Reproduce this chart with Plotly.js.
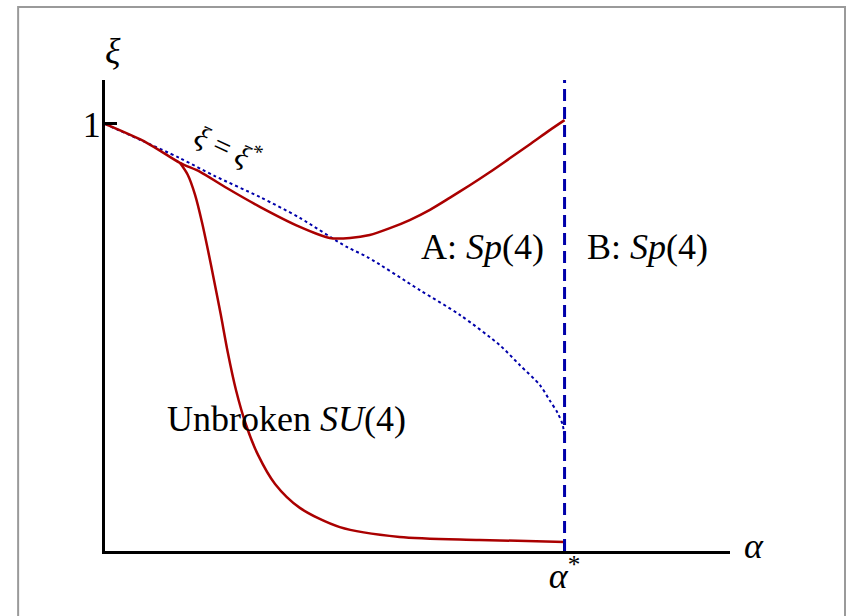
<!DOCTYPE html>
<html>
<head>
<meta charset="utf-8">
<script src="https://cdn.plot.ly/plotly-3.0.1.min.js"></script>
<style>
  html, body { margin: 0; padding: 0; background: #fff; }
  #chart { width: 850px; height: 616px; }
</style>
</head>
<body>
<div id="chart"></div>
<script>
// Phase diagram in the (alpha, xi) plane; alpha* normalised to 1.

// Upper boundary: dips to a minimum, then rises back to xi = 1 at alpha*
const upperAlpha = [0, 0.091, 0.163, 0.207, 0.265, 0.337, 0.424, 0.489, 0.533, 0.576, 0.620, 0.663, 0.707, 0.750, 0.793, 0.837, 0.880, 0.924, 0.967, 1.0];
const upperXi    = [1.0, 0.956, 0.909, 0.888, 0.850, 0.806, 0.759, 0.733, 0.733, 0.740, 0.756, 0.775, 0.799, 0.827, 0.856, 0.887, 0.919, 0.952, 0.985, 1.009];

// Lower boundary: drops steeply, then flattens towards zero
const lowerAlpha = [0.163, 0.180, 0.196, 0.211, 0.224, 0.237, 0.252, 0.267, 0.285, 0.307, 0.333, 0.370, 0.424, 0.511, 0.641, 0.815, 1.0];
const lowerXi    = [0.909, 0.881, 0.834, 0.770, 0.705, 0.635, 0.553, 0.466, 0.377, 0.295, 0.225, 0.157, 0.101, 0.056, 0.033, 0.026, 0.021];

// Critical line xi = xi*(alpha)
const critAlpha = [0, 0.076, 0.163, 0.239, 0.337, 0.424, 0.526, 0.570, 0.685, 0.772, 0.859, 0.902, 0.946, 0.967, 0.985, 0.996, 1.0];
const critXi    = [1.0, 0.963, 0.920, 0.878, 0.829, 0.780, 0.712, 0.689, 0.611, 0.553, 0.482, 0.436, 0.389, 0.354, 0.323, 0.295, 0.260];

// Axis ticks
const xTickVals = [1];
const xTickText = ['<i>α</i><sup>*</sup>'];
const yTickVals = [1];
const yTickText = ['1'];

// Alpha at which the phase boundary B begins
const alphaStar = 1;

const RED = '#aa0000';
const BLUE = '#0000aa';
const SERIF = '"Liberation Serif", "Times New Roman", Times, serif';
const FS = 36;

const traces = [
  { x: critAlpha, y: critXi, mode: 'lines', hoverinfo: 'skip',
    line: { color: BLUE, width: 2, dash: '3px,3px', shape: 'spline', smoothing: 0.8 } },
  { x: upperAlpha, y: upperXi, mode: 'lines', hoverinfo: 'skip',
    line: { color: RED, width: 2.5, shape: 'spline', smoothing: 0.8 } },
  { x: lowerAlpha, y: lowerXi, mode: 'lines', hoverinfo: 'skip',
    line: { color: RED, width: 2.5, shape: 'spline', smoothing: 0.8 } }
];

const layout = {
  width: 850, height: 616,
  margin: { l: 105, r: 120, t: 80, b: 65 },
  paper_bgcolor: '#fff', plot_bgcolor: '#fff',
  showlegend: false,
  font: { family: SERIF, size: FS, color: '#000' },
  xaxis: {
    range: [0, 1.36], showgrid: false, zeroline: false,
    showline: true, linecolor: '#000', linewidth: 3,
    tickmode: 'array', tickvals: xTickVals, ticktext: xTickText,
    ticks: 'inside', ticklen: 10, tickwidth: 3, tickcolor: '#000',
    ticklabelstandoff: -9,
    tickfont: { family: SERIF, size: FS }
  },
  yaxis: {
    range: [0, 1.103], showgrid: false, zeroline: false,
    showline: true, linecolor: '#000', linewidth: 3,
    tickmode: 'array', tickvals: yTickVals, ticktext: yTickText,
    ticks: 'inside', ticklen: 12, tickwidth: 3, tickcolor: '#000',
    ticklabelstandoff: -6,
    tickfont: { family: SERIF, size: FS }
  },
  shapes: [
    { type: 'line', xref: 'x', yref: 'paper', x0: alphaStar, x1: alphaStar, y0: 0, y1: 1,
      line: { color: BLUE, width: 3, dash: '12px,6px' } },
    { type: 'rect', xref: 'paper', yref: 'paper', x0: -0.139, x1: 1.184, y0: -0.16, y1: 1.155,
      line: { color: '#9a9a9a', width: 2 }, fillcolor: 'rgba(0,0,0,0)', layer: 'below' }
  ],
  annotations: [
    { text: 'A: <i>Sp</i>(4)', x: 0.822, y: 0.712, xref: 'x', yref: 'y', showarrow: false,
      font: { family: SERIF, size: FS, color: '#000' } },
    { text: 'B: <i>Sp</i>(4)', x: 1.180, y: 0.712, xref: 'x', yref: 'y', showarrow: false,
      font: { family: SERIF, size: FS, color: '#000' } },
    { text: 'Unbroken <i>SU</i>(4)', x: 0.395, y: 0.309, xref: 'x', yref: 'y', showarrow: false,
      font: { family: SERIF, size: FS, color: '#000' } },
    { text: '<i>ξ</i> = <i>ξ</i><sup>*</sup>', x: 0.268, y: 0.948, xref: 'x', yref: 'y', showarrow: false,
      textangle: 25, font: { family: SERIF, size: 30, color: '#000' } },
    { text: '<i>ξ</i>', x: -0.003, y: 1.108, xref: 'paper', yref: 'paper', showarrow: false,
      font: { family: SERIF, size: FS, color: '#000' } },
    { text: '<i>α</i>', x: 1.058, y: -0.036, xref: 'paper', yref: 'paper', showarrow: false,
      font: { family: SERIF, size: FS, color: '#000' } }
  ]
};

Plotly.newPlot('chart', traces, layout, { staticPlot: true, displayModeBar: false });
</script>
</body>
</html>
